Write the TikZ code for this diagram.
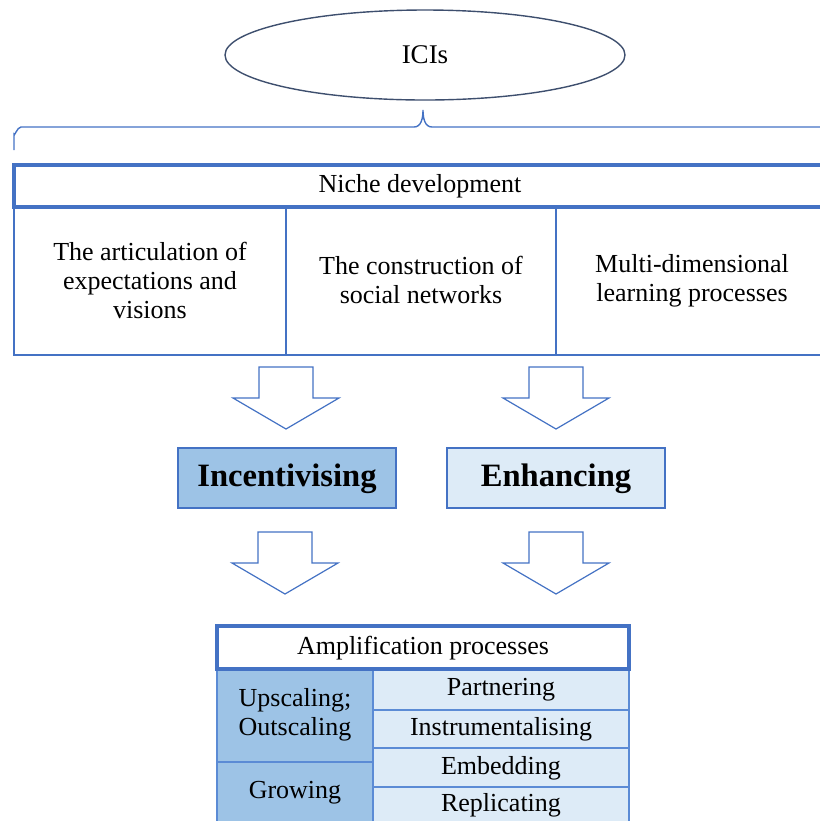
\documentclass[tikz,border=0pt]{standalone}
\usepackage{fontspec}
\setmainfont{Liberation Serif}
\usetikzlibrary{shapes.geometric}
\begin{document}
\begin{tikzpicture}[x=0.5pt,y=-0.5pt,
  thickframe/.style={draw=boxblue,line width=1.6pt},
  thinframe/.style={draw=boxblue,line width=0.6pt},
  cellline/.style={draw=lineblue,line width=0.6pt},
  blockarrow/.style={draw=boxblue,line width=0.6pt,fill=white,line join=miter},
  label/.style={font=\fontsize{13}{14.5}\selectfont,align=center,inner sep=0pt},
  biglabel/.style={font=\fontsize{16.3}{18}\selectfont\bfseries,inner sep=0pt}]
\definecolor{boxblue}{HTML}{4472C4}
\definecolor{lineblue}{HTML}{5B8BD5}
\definecolor{midfill}{HTML}{9DC3E6}
\definecolor{lightfill}{HTML}{DDEBF7}
\definecolor{ovalline}{HTML}{3E4F6E}
\useasboundingbox (0,0) rectangle (820,821);
\clip (0,0) rectangle (820,821);

% top oval
\node[draw=ovalline,line width=0.7pt,ellipse,minimum width=200pt,minimum height=45pt,
      font=\fontsize{13.5}{15}\selectfont] (ici) at (425,55) {ICIs};

% brace over the niche block
\draw[draw=boxblue,line width=0.7pt] (14,150) -- (14,134) to[out=270,in=180] (21,127)
  -- (414,127) to[out=0,in=270] (423,110) to[out=270,in=180] (432,127) -- (840,127);

% niche development block
\draw[thinframe] (14,207) rectangle (840,355);
\draw[thinframe] (286,207) -- (286,355);
\draw[thinframe] (556,207) -- (556,355);
\draw[thickframe,fill=white] (14,165) rectangle (840,207);
\node[label] (niche) at (420,186) {Niche development};
\node[label] (artic) at (150,280) {The articulation of\\expectations and\\visions};
\node[label] (constr) at (421,280) {The construction of\\social networks};
\node[label] (learn) at (692,281) {Multi-dimensional\\learning processes};

% block arrows
\foreach \cx/\ty in {286/367, 556/367, 285/532, 556/532}{
  \draw[blockarrow] (\cx-27,\ty) -- (\cx+27,\ty) -- (\cx+27,\ty+31) -- (\cx+53,\ty+31)
    -- (\cx,\ty+62) -- (\cx-53,\ty+31) -- (\cx-27,\ty+31) -- cycle;
}

% mechanism boxes
\draw[thinframe,fill=midfill] (178,448) rectangle (396,508);
\node[biglabel] (incent) at (287,479) {Incentivising};
\draw[thinframe,fill=lightfill] (447,448) rectangle (665,508);
\node[biglabel] (enhance) at (556,479) {Enhancing};

% amplification table
\draw[cellline,fill=midfill] (217,669) rectangle (373,762);
\draw[cellline,fill=midfill] (217,762) rectangle (373,840);
\draw[cellline,fill=lightfill] (373,669) rectangle (629,710);
\draw[cellline,fill=lightfill] (373,710) rectangle (629,748);
\draw[cellline,fill=lightfill] (373,748) rectangle (629,787);
\draw[cellline,fill=lightfill] (373,787) rectangle (629,840);
\draw[thickframe,fill=white] (217,626) rectangle (629,669);
\node[label] (amp) at (423,648) {Amplification processes};
\node[label] (upscale) at (295,715) {Upscaling;\\Outscaling};
\node[label] (grow) at (295,793) {Growing};
\node[label] (partner) at (501,690) {Partnering};
\node[label] (instr) at (501,729) {Instrumentalising};
\node[label] (embed) at (501,768) {Embedding};
\node[label] (replic) at (501,805) {Replicating};
\end{tikzpicture}
\end{document}
